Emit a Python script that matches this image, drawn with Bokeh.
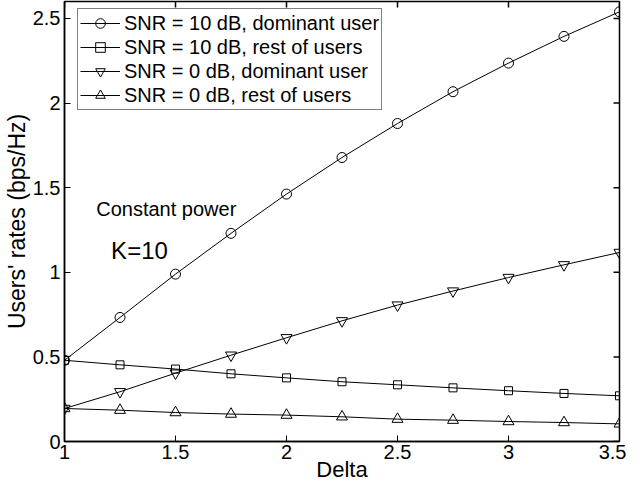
import math
from bokeh.plotting import figure
from bokeh.models import Range1d, Legend, LegendItem, Label, FixedTicker
from bokeh.embed import file_html
from bokeh.resources import INLINE

delta = [1.0, 1.25, 1.5, 1.75, 2.0, 2.25, 2.5, 2.75, 3.0, 3.25, 3.5]
snr10_dominant = [0.48, 0.733, 0.989, 1.230, 1.462, 1.678, 1.879, 2.067, 2.236, 2.394, 2.539]
snr10_rest = [0.48, 0.453, 0.428, 0.400, 0.376, 0.353, 0.335, 0.317, 0.300, 0.284, 0.270]
snr0_dominant = [0.195, 0.294, 0.404, 0.510, 0.613, 0.713, 0.806, 0.889, 0.969, 1.044, 1.117]
snr0_rest = [0.195, 0.185, 0.171, 0.162, 0.156, 0.146, 0.132, 0.126, 0.118, 0.112, 0.104]

x_ticks = [1, 1.5, 2, 2.5, 3, 3.5]
x_tick_labels = ["1", "1.5", "2", "2.5", "3", "3.5"]
y_ticks = [0, 0.5, 1, 1.5, 2, 2.5]
y_tick_labels = ["0", "0.5", "1", "1.5", "2", "2.5"]

series_labels = [
    "SNR = 10 dB, dominant user",
    "SNR = 10 dB, rest of users",
    "SNR = 0 dB, dominant user",
    "SNR = 0 dB, rest of users",
]

X_MIN, X_MAX = 1, 3.5
Y_MIN, Y_MAX = 0, 2.6
FONT = "Liberation Sans"

p = figure(width=626, height=486, x_range=Range1d(X_MIN, X_MAX), y_range=Range1d(Y_MIN, Y_MAX),
           output_backend="svg", toolbar_location=None,
           min_border_left=60, min_border_right=7, min_border_top=1, min_border_bottom=45)
p.xgrid.visible = False
p.ygrid.visible = False
p.outline_line_color = "black"
p.outline_line_width = 1.5
p.background_fill_color = "white"
p.border_fill_color = "white"

def style_axis(ax, ticks, labels, standoff, label_size):
    ax.ticker = FixedTicker(ticks=ticks)
    ax.major_label_overrides = {t: l for t, l in zip(ticks, labels)}
    ax.major_tick_in = 6
    ax.major_tick_out = 0
    ax.minor_tick_line_color = None
    ax.axis_line_color = "black"
    ax.axis_line_width = 1.5
    ax.major_tick_line_color = "black"
    ax.major_label_text_font = FONT
    ax.major_label_text_color = "black"
    ax.major_label_text_font_size = "20px"
    ax.major_label_standoff = standoff
    ax.axis_label_text_font = FONT
    ax.axis_label_text_font_size = label_size
    ax.axis_label_text_font_style = "normal"
    ax.axis_label_text_color = "black"

style_axis(p.xaxis[0], x_ticks, x_tick_labels, 3, "22px")
style_axis(p.yaxis[0], y_ticks, y_tick_labels, 4, "23px")
p.xaxis.axis_label = "Delta"
p.xaxis.axis_label_standoff = -5
p.yaxis.axis_label = "Users' rates (bps/Hz)"
p.yaxis.axis_label_standoff = 0

# inner ticks on top and right sides of the box
p.ray(x=x_ticks, y=[Y_MAX] * len(x_ticks), length=6, length_units="screen",
      angle=-math.pi / 2, line_color="black", line_width=1.5)
p.ray(x=[X_MAX] * len(y_ticks), y=y_ticks, length=6, length_units="screen",
      angle=math.pi, line_color="black", line_width=1.5)

items = []
markers = ["circle", "square", "inverted_triangle", "triangle"]
sizes = [10, 8, 11, 11]
data = [snr10_dominant, snr10_rest, snr0_dominant, snr0_rest]
for lbl, mk, sz, ys in zip(series_labels, markers, sizes, data):
    ln = p.line(delta, ys, line_color="black", line_width=1)
    sc = p.scatter(delta, ys, marker=mk, size=sz, line_color="black", fill_color=None, line_width=1)
    items.append(LegendItem(label=lbl, renderers=[ln, sc]))

legend = Legend(items=items, location=(13, 331))
legend.label_text_font = FONT
legend.label_text_font_size = "20px"
legend.label_text_color = "black"
legend.glyph_width = 40
legend.glyph_height = 24
legend.label_height = 24
legend.label_standoff = 4
legend.padding = 2
legend.spacing = 0
legend.margin = 0
legend.border_line_color = "black"
legend.border_line_width = 1.5
legend.background_fill_color = "white"
legend.background_fill_alpha = 1
p.add_layout(legend)

p.add_layout(Label(x=1.143, y=1.373, text="Constant power", text_font=FONT,
                   text_font_size="20px", text_color="black", text_baseline="alphabetic"))
p.add_layout(Label(x=1.21, y=1.127, text="K=10", text_font=FONT,
                   text_font_size="24px", text_color="black", text_baseline="alphabetic"))

open("out.html", "w").write(file_html(p, INLINE))
